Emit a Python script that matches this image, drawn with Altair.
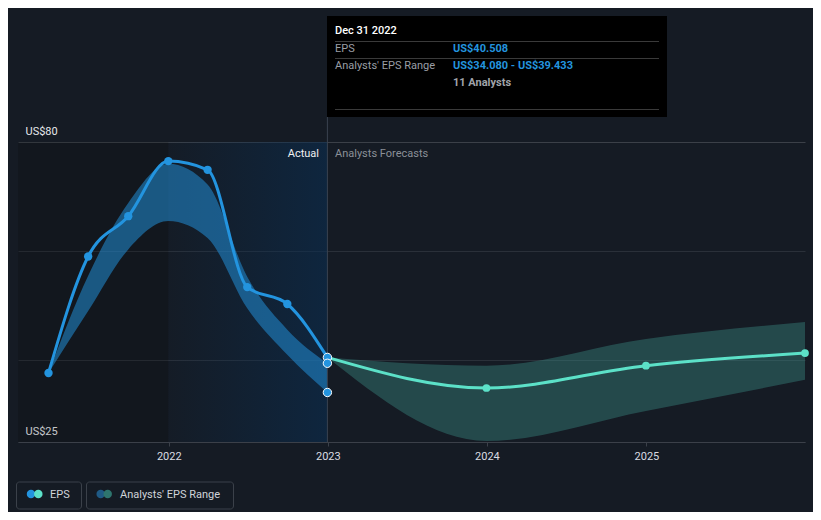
import altair as alt
import pandas as pd

# ---- data ----
act_dates = ["2021-03-31", "2021-06-30", "2021-09-30", "2021-12-31",
             "2022-03-31", "2022-06-30", "2022-09-30", "2022-12-31"]
act_eps = [37.65, 59.0, 66.4, 76.5, 74.9, 53.4, 50.3, 40.508]
past_low = [37.65, 49.0, 60.3, 65.5, 62.4, 49.5, 41.0, 34.08]
past_high = [37.65, 55.5, 68.8, 76.0, 72.2, 55.3, 45.6, 39.433]

fc_dates = ["2022-12-31", "2023-12-31", "2024-12-31", "2025-12-31"]
fc_eps = [40.508, 34.9, 39.0, 41.3]
fc_low = [40.508, 25.2, 30.7, 36.4]
fc_high = [40.508, 39.0, 43.9, 47.0]

marker_date = ["2022-12-31", "2022-12-31", "2022-12-31"]
marker_vals = [40.508, 39.433, 34.08]

year_ticks = [2022, 2023, 2024, 2025]
y_ticks = [25, 40, 60, 80]

BG = "#151b24"
BLUE = "#2394df"
TEAL = "#5ce1c8"
FONT = "Roboto"

actual = pd.DataFrame({"date": act_dates, "eps": act_eps, "low": past_low, "high": past_high})
fc = pd.DataFrame({"date": fc_dates, "eps": fc_eps, "low": fc_low, "high": fc_high})
markers = pd.DataFrame({"date": marker_date, "eps": marker_vals})
one = pd.DataFrame({"a": [0]})
left_region = pd.DataFrame({"start": ["2021-01-20"], "end": ["2021-12-31"]})
hl_region = pd.DataFrame({"start": ["2021-12-31"], "end": ["2022-12-31"]})
split = pd.DataFrame({"date": ["2022-12-31"]})

xscale = alt.Scale(type="utc",
                   domain=[alt.DateTime(year=2021, month=1, date=20, utc=True),
                           alt.DateTime(year=2025, month=12, date=31, utc=True)])
yscale = alt.Scale(domain=[25, 80], nice=False, zero=False)

xaxis = alt.Axis(values=[alt.DateTime(year=y, month=1, date=1, utc=True) for y in year_ticks],
                 format="%Y", formatType="utc", grid=False, title=None,
                 domainColor="#3b4049", tickColor="#3b4049", tickSize=4,
                 labelColor="#d9dce1", labelFont=FONT, labelFontSize=11, labelPadding=4)
yaxis = alt.Axis(values=y_ticks,
                 labelExpr="(datum.value == 80 || datum.value == 25) ? 'US$' + datum.value : ''",
                 grid=True,
                 gridColor={"condition": {"test": "datum.value === 80", "value": "#3b4048"},
                            "value": "#2a3039"},
                 domain=False, ticks=False, title=None,
                 labelAlign="left", labelPadding=-7, labelBaseline="alphabetic", labelOffset=-8,
                 labelColor="#e6e8eb", labelFont=FONT, labelFontSize=11)


def X(field):
    return alt.X(field, type="temporal", scale=xscale, axis=xaxis)


def Y(field):
    return alt.Y(field, type="quantitative", scale=yscale, axis=yaxis)


def txt(s, x, y, color, size=11, weight="normal", align="left"):
    return alt.Chart(one).mark_text(text=s, color=color, fontSize=size, font=FONT,
                                    fontWeight=weight, align=align, baseline="middle").encode(
        x=alt.value(x), y=alt.value(y))


def hline(x1, x2, y, color):
    return alt.Chart(one).mark_rule(color=color, strokeWidth=1).encode(
        x=alt.value(x1), x2=alt.value(x2), y=alt.value(y))


left_rect = alt.Chart(left_region).mark_rect(color="rgba(0,0,0,0.14)").encode(
    x=X("start"), x2="end", y=alt.value(0), y2=alt.value(300))

hl_rect = alt.Chart(hl_region).mark_rect(
    color=alt.Gradient(gradient="linear",
                       stops=[alt.GradientStop(color="rgba(10,45,80,0.05)", offset=0),
                              alt.GradientStop(color="rgba(10,45,80,0.6)", offset=1)],
                       x1=0, x2=1, y1=0, y2=0)).encode(
    x=X("start"), x2="end", y=alt.value(0), y2=alt.value(300))

past_band = alt.Chart(actual).mark_area(interpolate="monotone", color=BLUE, opacity=0.52).encode(
    x=X("date"), y=Y("low"), y2="high")

fc_band = alt.Chart(fc).mark_area(interpolate="monotone", color="#3a8a84", opacity=0.42).encode(
    x=X("date"), y=Y("low"), y2="high")

split_rule = alt.Chart(split).mark_rule(color="#3a4250", strokeWidth=1).encode(
    x=X("date"), y=alt.value(-25), y2=alt.value(300))

act_line = alt.Chart(actual).mark_line(interpolate="monotone", color=BLUE, strokeWidth=3).encode(
    x=X("date"), y=Y("eps"))

fc_line = alt.Chart(fc).mark_line(interpolate="monotone", color=TEAL, strokeWidth=3).encode(
    x=X("date"), y=Y("eps"))

act_pts = alt.Chart(actual.iloc[:-1]).mark_circle(color=BLUE, opacity=1, size=70).encode(
    x=X("date"), y=Y("eps"))

fc_pts = alt.Chart(fc.iloc[1:]).mark_circle(color=TEAL, opacity=1, size=60).encode(
    x=X("date"), y=Y("eps"))

mk_pts = alt.Chart(markers).mark_circle(color=BLUE, opacity=1, size=70, stroke="white",
                                        strokeWidth=1).encode(x=X("date"), y=Y("eps"))

# labels over the plot
lbl_actual = txt("Actual", 301, 12, "#eef0f2", align="right")
lbl_fc = txt("Analysts Forecasts", 317, 12, "#8b9098")

# tooltip box
tip_box = alt.Chart(one).mark_rect(color="#000000").encode(
    x=alt.value(309), x2=alt.value(649), y=alt.value(-126), y2=alt.value(-25))
tip_layers = [
    tip_box,
    txt("Dec 31 2022", 317, -111, "#ffffff", weight=500),
    hline(317, 641, -100.5, "#3a3a3a"),
    txt("EPS", 317, -93, "#9a9ea5"),
    txt("US$40.508", 435, -93, BLUE, weight="bold"),
    hline(317, 641, -83.5, "#3a3a3a"),
    txt("Analysts' EPS Range", 317, -76, "#9a9ea5"),
    txt("US$34.080 - US$39.433", 435, -76, BLUE, weight="bold"),
    txt("11 Analysts", 435, -59, "#a0a4aa", weight="bold"),
    hline(317, 641, -32.5, "#3a3a3a"),
]

# legend
def box(x1, x2):
    return alt.Chart(one).mark_rect(fillOpacity=0, stroke="#3b414a", strokeWidth=1,
                                    cornerRadius=3).encode(
        x=alt.value(x1), x2=alt.value(x2), y=alt.value(340), y2=alt.value(367))


def dot(x, color):
    return alt.Chart(one).mark_circle(color=color, opacity=1, size=72).encode(
        x=alt.value(x), y=alt.value(352))


legend_layers = [
    box(-1.5, 63.5), box(68.5, 215.5),
    dot(13, BLUE), dot(20.3, TEAL), txt("EPS", 32, 352.5, "#d0d4da"),
    dot(82.7, "#1f5a85"), dot(89.7, "#2e756e"), txt("Analysts' EPS Range", 102, 352.5, "#d0d4da"),
]

chart = alt.layer(
    left_rect, hl_rect, past_band, fc_band, split_rule, act_line, fc_line,
    act_pts, fc_pts, mk_pts, lbl_actual, lbl_fc, *tip_layers, *legend_layers
).properties(
    width=787, height=300,
    padding={"left": 10, "top": 134, "right": 8, "bottom": 70},
    autosize=alt.AutoSizeParams(type="none"),
    background=BG,
).configure_view(stroke=None)

chart.save("out.html", embed_options={"renderer": "svg", "actions": False})
